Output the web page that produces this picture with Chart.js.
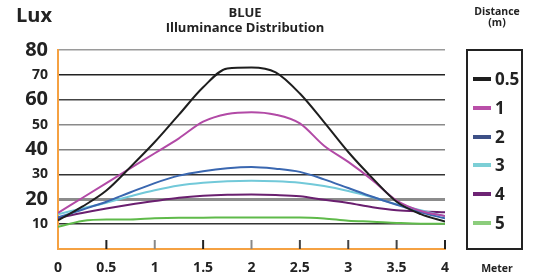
<!DOCTYPE html>
<html><head><meta charset="utf-8">
<script src="https://cdn.jsdelivr.net/npm/chart.js@4.4.0/dist/chart.umd.min.js"></script>
<style>
html,body{margin:0;padding:0;background:#fff;}
#wrap{position:relative;width:537px;height:278px;font-family:"Open Sans",sans-serif;font-weight:700;color:#222;overflow:hidden;}
#c{position:absolute;left:0;top:0;}
.t{position:absolute;white-space:nowrap;line-height:1;}
#legend{position:absolute;left:466px;top:49px;width:53px;height:197px;border:2px solid #222;}
.li{position:absolute;left:5px;height:20px;}
.sw{position:absolute;left:0;top:8px;width:18px;height:4px;}
.lt{position:absolute;left:22px;top:0;font-size:17px;line-height:20px;}
</style></head><body>
<div id="wrap">
<canvas id="c" width="537" height="278"></canvas>
<div class="t" style="left:16px;top:5px;font-size:20px;">Lux</div>
<div class="t" style="left:145px;top:6px;width:200px;text-align:center;font-size:13px;">BLUE</div>
<div class="t" style="left:145px;top:21px;width:200px;text-align:center;font-size:13px;">Illuminance Distribution</div>
<div class="t" style="left:457px;top:6px;width:80px;text-align:center;font-size:10.5px;line-height:11px;">Distance<br>(m)</div>
<div class="t" style="left:457px;top:263px;width:80px;text-align:center;font-size:10.5px;">Meter</div>
<div id="legend"></div>
</div>
<script>
// ---- data ----
const xValues = [0,0.25,0.5,0.75,1,1.25,1.5,1.75,2,2.25,2.5,2.75,3,3.25,3.5,3.75,4];
const xTicks = [0,0.5,1,1.5,2,2.5,3,3.5,4];
const yTicks = [10,20,30,40,50,60,70,80];
const distanceLabels = ['0.5','1','2','3','4','5'];
const lux05 = [11.5,17,23.5,33,43,54,65,72.6,73,71,62.5,51,39,28.5,19,14,11];
const lux1  = [14.5,20.5,26.5,32.5,38.5,44.5,51.2,54.3,55,54,50.5,41.5,35,27.7,19.5,15.3,13.3];
const lux2  = [12.7,15.8,19,22.8,26.5,29.5,31.3,32.5,33,32.3,31,28,24.5,21,17.8,14.8,12.3];
const lux3  = [14,16.3,18.6,21.2,23.6,25.5,26.6,27.2,27.4,27.2,26.6,25.3,23.3,20.8,18,15.6,13.2];
const lux4  = [12.5,14.5,16.3,17.9,19.3,20.6,21.4,21.8,21.9,21.7,21.2,19.8,18.5,16.8,15.6,15.1,14.8];
const lux5  = [8.9,11.3,11.9,11.9,12.4,12.6,12.6,12.7,12.7,12.7,12.7,12.3,11.4,11,10.5,10.2,10.2];

// ---- styles ----
const lineColors = ['#1e1e1e','#b24aa6','#3a67b0','#72c9d9','#6a1f6f','#5fba4a'];
const swatchColors = ['#1e1e1e','#b94fa8','#3d5086','#7ccfd6','#6e2474','#8ccd7c'];
const orange = '#f5a142';
const gridStyle = {80:['#9a9a9a',1.5],70:['#222',1.5],60:['#444',1.5],50:['#8a8a8a',1.5],40:['#808080',1.5],30:['#333',1.5],20:['#8c8c8c',3],10:['#333',1.5]};
const xTickColors = {0.5:'#222',1:'#888',1.5:'#222',2:'#888',2.5:'#444',3:'#444',3.5:'#444',4:'#222'};

const seriesValues = [lux05,lux1,lux2,lux3,lux4,lux5];
const datasets = seriesValues.map((vals,i)=>({
  label: distanceLabels[i],
  data: xValues.map((x,j)=>({x:x,y:vals[j]})),
  borderColor: lineColors[i],
  backgroundColor: lineColors[i],
  borderWidth: 2,
  pointRadius: 0,
  cubicInterpolationMode: 'monotone',
  fill: false
}));

// legend (HTML)
const lg = document.getElementById('legend');
distanceLabels.forEach((l,i)=>{
  const d = document.createElement('div');
  d.className='li';
  d.style.top = (18 + i*28.8) + 'px';
  d.innerHTML = '<div class="sw" style="background:'+swatchColors[i]+'"></div><div class="lt">'+l+'</div>';
  lg.appendChild(d);
});

const innerTicks = {
  id:'innerTicks',
  afterDatasetsDraw(chart){
    const xs = chart.scales.x, ca = chart.chartArea, ctx = chart.ctx;
    ctx.save();
    ctx.lineWidth = 2;
    xTicks.forEach(v=>{
      if(v===0) return;
      const px = xs.getPixelForValue(v);
      ctx.strokeStyle = xTickColors[v];
      ctx.beginPath();
      ctx.moveTo(px, ca.bottom);
      ctx.lineTo(px, ca.bottom-9);
      ctx.stroke();
    });
    ctx.restore();
  }
};

new Chart(document.getElementById('c'), {
  type:'line',
  data:{datasets:datasets},
  options:{
    responsive:false,
    animation:false,
    devicePixelRatio:1,
    layout:{padding:{top:50,right:92,left:0,bottom:0}},
    plugins:{legend:{display:false},title:{display:false},tooltip:{enabled:false}},
    scales:{
      x:{
        type:'linear',min:0,max:4,
        afterBuildTicks(s){ s.ticks = xTicks.map(v=>({value:v})); },
        afterFit(s){ s.height = 29; },
        grid:{display:false,drawTicks:false},
        border:{display:true,color:orange,width:2},
        ticks:{autoSkip:false,maxRotation:0,padding:11,color:'#222',font:{family:'Open Sans',weight:'700',size:14},callback:(v)=>String(v)}
      },
      y:{
        type:'linear',min:0,max:80,
        afterBuildTicks(s){ s.ticks = [0].concat(yTicks).map(v=>({value:v})); },
        afterFit(s){ s.width = 58; },
        grid:{
          drawTicks:false,
          color:(c)=> c.tick && gridStyle[c.tick.value] ? gridStyle[c.tick.value][0] : 'rgba(0,0,0,0)',
          lineWidth:(c)=> c.tick && gridStyle[c.tick.value] ? gridStyle[c.tick.value][1] : 0
        },
        border:{display:true,color:orange,width:2},
        ticks:{
          autoSkip:false,
          padding:10,color:'#222',
          callback:(v)=> v===0 ? '' : String(v),
          font:(c)=>({family:'Open Sans',weight:'700',size:(c.tick && c.tick.value%20===0)?20:14})
        }
      }
    }
  },
  plugins:[innerTicks]
});
</script>
</body></html>
